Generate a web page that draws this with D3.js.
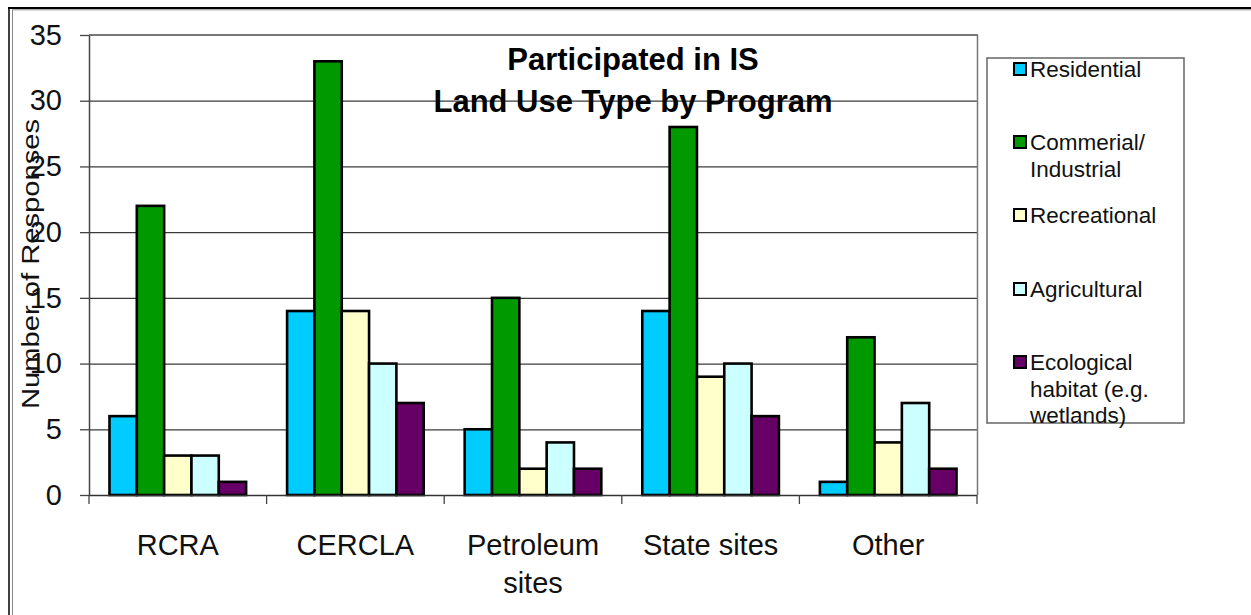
<!DOCTYPE html>
<html>
<head>
<meta charset="utf-8">
<script src="https://cdn.jsdelivr.net/npm/d3@7"></script>
<style>
  html, body { margin: 0; padding: 0; background: #fff; }
  svg { display: block; font-family: "Liberation Sans", Arial, sans-serif; }
</style>
</head>
<body>
<svg id="chart" width="1251" height="615"></svg>
<script>
// Programs along the x axis
const programs = ["RCRA", "CERCLA", "Petroleum sites", "State sites", "Other"];
// Land use types (series)
const landUses = ["Residential", "Commerial/ Industrial", "Recreational", "Agricultural", "Ecological habitat (e.g. wetlands)"];
// Number of responses per land use type, one value per program
const residential  = [6, 14, 5, 14, 1];
const commercial   = [22, 33, 15, 28, 12];
const recreational = [3, 14, 2, 9, 4];
const agricultural = [3, 10, 4, 10, 7];
const ecological   = [1, 7, 2, 6, 2];
const yTicks = [0, 5, 10, 15, 20, 25, 30, 35];
const colors = ["#00CCFF", "#009900", "#FFFFCC", "#CCFFFF", "#660066"];

// Category label lines and legend label lines
const programLines = [["RCRA"], ["CERCLA"], ["Petroleum", "sites"], ["State sites"], ["Other"]];
const legendLines = [["Residential"], ["Commerial/", "Industrial"], ["Recreational"], ["Agricultural"], ["Ecological", "habitat (e.g.", "wetlands)"]];

const seriesValues = [residential, commercial, recreational, agricultural, ecological];

const svg = d3.select("#chart");

// Outer frame
svg.append("line").attr("x1", 9).attr("x2", 9).attr("y1", 7).attr("y2", 615).attr("stroke", "#000").attr("stroke-width", 1.5);
svg.append("line").attr("x1", 12.5).attr("x2", 12.5).attr("y1", 10).attr("y2", 615).attr("stroke", "#888").attr("stroke-width", 1);
svg.append("line").attr("x1", 8).attr("x2", 1251).attr("y1", 8).attr("y2", 8).attr("stroke", "#000").attr("stroke-width", 2);
svg.append("line").attr("x1", 12).attr("x2", 1251).attr("y1", 9.8).attr("y2", 9.8).attr("stroke", "#888").attr("stroke-width", 1);

const plot = { left: 89, right: 977, top: 35, bottom: 495 };

const x = d3.scaleBand().domain(programs).range([plot.left, plot.right]).paddingInner(0).paddingOuter(0);
const bw = x.bandwidth();
const barW = bw / 6.5; // gap width of 150% of a bar
const xInner = d3.scaleBand().domain(landUses).range([barW * 0.75, bw - barW * 0.75]).padding(0);
const y = d3.scaleLinear().domain([0, 35]).range([plot.bottom, plot.top]);

// Horizontal gridlines
svg.append("g").selectAll("line").data(yTicks.filter(t => t > 0 && t < 35)).join("line")
  .attr("x1", plot.left).attr("x2", plot.right)
  .attr("y1", d => y(d) + 0.5).attr("y2", d => y(d) + 0.5)
  .attr("stroke", "#3a3a3a").attr("stroke-width", 1.2);

// Plot area border (top and right)
svg.append("line").attr("x1", plot.left).attr("x2", plot.right + 1).attr("y1", plot.top).attr("y2", plot.top)
  .attr("stroke", "#777").attr("stroke-width", 2);
svg.append("line").attr("x1", plot.right + 0.5).attr("x2", plot.right + 0.5).attr("y1", plot.top).attr("y2", plot.bottom)
  .attr("stroke", "#777").attr("stroke-width", 1.5);

// Y axis
const yAxis = svg.append("g").attr("transform", `translate(${plot.left},0)`)
  .call(d3.axisLeft(y).tickValues(yTicks).tickSize(9).tickPadding(18).tickSizeOuter(0));
yAxis.select(".domain").attr("stroke", "#444").attr("stroke-width", 1.5);
yAxis.selectAll(".tick line").attr("stroke", "#444").attr("stroke-width", 1.3);
yAxis.selectAll(".tick text").attr("font-size", 29).attr("fill", "#111")
  .attr("font-family", "'Liberation Sans', Arial, sans-serif");

// Bars
const groups = svg.append("g").selectAll("g").data(programs).join("g")
  .attr("transform", d => `translate(${x(d)},0)`);
groups.selectAll("rect").data((p, i) => landUses.map((s, j) => ({ s, j, v: seriesValues[j][i] }))).join("rect")
  .attr("x", d => xInner(d.s))
  .attr("width", xInner.bandwidth())
  .attr("y", d => y(d.v))
  .attr("height", d => y(0) - y(d.v))
  .attr("fill", d => colors[d.j])
  .attr("stroke", "#000").attr("stroke-width", 2.6);

// X axis line and category ticks
svg.append("line").attr("x1", plot.left).attr("x2", plot.right).attr("y1", plot.bottom + 0.5).attr("y2", plot.bottom + 0.5)
  .attr("stroke", "#333").attr("stroke-width", 1.5);
const boundaries = programs.map(p => x(p)).concat([x.range()[1]]);
svg.append("g").selectAll("line").data(boundaries).join("line")
  .attr("x1", d => d).attr("x2", d => d)
  .attr("y1", plot.bottom).attr("y2", plot.bottom + 9)
  .attr("stroke", "#444").attr("stroke-width", 1.3);

// Category labels
const catLabels = svg.append("g").selectAll("text").data(programs).join("text")
  .attr("x", d => x(d) + bw / 2)
  .attr("y", 555)
  .attr("text-anchor", "middle")
  .attr("font-size", 29).attr("fill", "#111");
catLabels.selectAll("tspan").data((d, i) => programLines[i]).join("tspan")
  .attr("x", function () { return d3.select(this.parentNode).attr("x"); })
  .attr("dy", (d, k) => k === 0 ? 0 : 38)
  .text(d => d);

// Y axis title
svg.append("text")
  .attr("transform", "translate(39,264) rotate(-90) scale(1.08,0.86)")
  .attr("text-anchor", "middle")
  .attr("font-size", 27).attr("fill", "#111")
  .text("Number of Responses");

// Chart title
const title = svg.append("text").attr("text-anchor", "middle").attr("font-weight", "bold")
  .attr("font-size", 31).attr("fill", "#000");
title.append("tspan").attr("x", 633).attr("y", 70).text("Participated in IS");
title.append("tspan").attr("x", 633).attr("y", 112).text("Land Use Type by Program");

// Legend
const legend = svg.append("g");
legend.append("rect").attr("x", 987).attr("y", 58).attr("width", 197).attr("height", 365)
  .attr("fill", "#fff").attr("stroke", "#666").attr("stroke-width", 1.5);
const legendBaselines = [77, 150, 223, 297, 370];
const items = legend.selectAll("g.item").data(landUses).join("g").attr("class", "item");
items.append("rect")
  .attr("x", 1014).attr("y", (d, i) => legendBaselines[i] - 14)
  .attr("width", 12).attr("height", 12)
  .attr("fill", (d, i) => colors[i]).attr("stroke", "#000").attr("stroke-width", 2);
const itemText = items.append("text")
  .attr("x", 1030).attr("y", (d, i) => legendBaselines[i])
  .attr("font-size", 22.5).attr("fill", "#111");
itemText.selectAll("tspan").data((d, i) => legendLines[i]).join("tspan")
  .attr("x", 1030)
  .attr("dy", (d, k) => k === 0 ? 0 : 26.5)
  .text(d => d);
</script>
</body>
</html>
